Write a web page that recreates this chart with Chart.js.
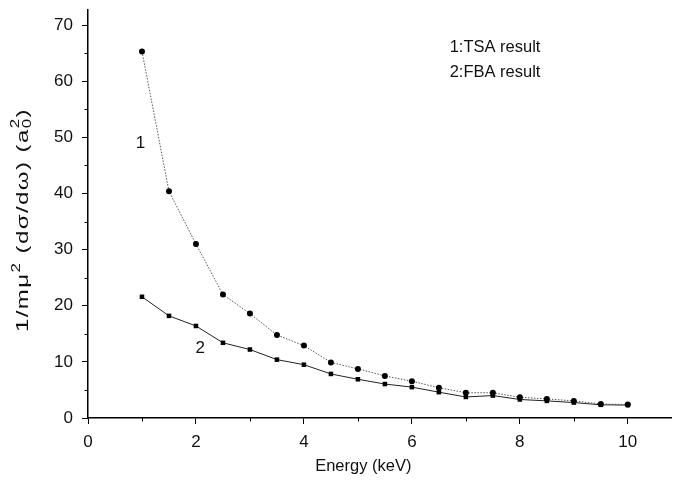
<!DOCTYPE html>
<html>
<head>
<meta charset="utf-8">
<script src="https://cdn.jsdelivr.net/npm/chart.js@4.4.1/dist/chart.umd.min.js"></script>
<style>
html,body{margin:0;padding:0;background:#fff;}
#wrap{width:675px;height:481px;position:relative;}
</style>
</head>
<body>
<div id="wrap"><canvas id="c" width="675" height="481"></canvas></div>
<script>
// Energy (keV)
const energy = [1, 1.5, 2, 2.5, 3, 3.5, 4, 4.5, 5, 5.5, 6, 6.5, 7, 7.5, 8, 8.5, 9, 9.5, 10];
// 1: TSA result
const tsaValues = [65.3, 40.4, 31.0, 22.0, 18.6, 14.8, 12.9, 9.9, 8.75, 7.5, 6.55, 5.4, 4.5, 4.5, 3.7, 3.4, 3.05, 2.5, 2.4];
// 2: FBA result
const fbaValues = [21.6, 18.2, 16.4, 13.4, 12.2, 10.4, 9.5, 7.85, 6.9, 6.05, 5.5, 4.6, 3.75, 4.0, 3.3, 3.05, 2.75, 2.35, 2.3];
const xMinorTicks = [1, 3, 5, 7, 9];
const yMinorTicks = [5, 15, 25, 35, 45, 55, 65];
// Text labels placed at data coordinates
const curveLabels = [
  {text: '1', x: 0.97, y: 49},
  {text: '2', x: 2.08, y: 12.5}
];
const legendLines = [
  {text: '1:TSA result', x: 6.7, y: 66.1},
  {text: '2:FBA result', x: 6.7, y: 61.6}
];
const xTitle = 'Energy (keV)';

const toXY = (xs, ys) => xs.map((x, i) => ({x: x, y: ys[i]}));

const FONT = '"Liberation Sans", Arial, sans-serif';

const extras = {
  id: 'extras',
  afterDraw(chart) {
    const ctx = chart.ctx;
    const xs = chart.scales.x, ys = chart.scales.y;
    ctx.save();
    ctx.strokeStyle = '#000';
    ctx.lineWidth = 1;
    // minor ticks
    xMinorTicks.forEach(v => {
      const px = Math.round(xs.getPixelForValue(v)) + 0.5;
      ctx.beginPath(); ctx.moveTo(px, ys.bottom); ctx.lineTo(px, ys.bottom + 3.5); ctx.stroke();
    });
    yMinorTicks.forEach(v => {
      const py = Math.round(ys.getPixelForValue(v)) + 0.5;
      ctx.beginPath(); ctx.moveTo(xs.left, py); ctx.lineTo(xs.left - 3.5, py); ctx.stroke();
    });
    // curve labels and legend text
    ctx.fillStyle = '#111';
    ctx.textBaseline = 'middle';
    ctx.textAlign = 'center';
    ctx.font = '17px ' + FONT;
    curveLabels.forEach(l => ctx.fillText(l.text, xs.getPixelForValue(l.x), ys.getPixelForValue(l.y)));
    ctx.textAlign = 'left';
    ctx.font = '16.5px ' + FONT;
    legendLines.forEach(l => ctx.fillText(l.text, xs.getPixelForValue(l.x), ys.getPixelForValue(l.y)));
    // x-axis title
    ctx.textAlign = 'center';
    ctx.font = '16.5px ' + FONT;
    ctx.fillText(xTitle, xs.getPixelForValue(5.1), 466);
    ctx.restore();

    // y-axis title with super/subscripts
    ctx.save();
    ctx.fillStyle = '#111';
    const cy = 220;
    ctx.translate(23, cy);
    ctx.rotate(-Math.PI / 2);
    const parts = [
      {t: '1/m\u03bc', f: 17, dy: 0},
      {t: '2', f: 12, dy: -6},
      {t: ' (d\u03c3/d\u03c9) (a', f: 17, dy: 0},
      {t: '0', f: 12, dy: 5, stackNext: true},
      {t: '2', f: 12, dy: -7},
      {t: ')', f: 17, dy: 0}
    ];
    try { ctx.letterSpacing = '1px'; } catch (e) {}
    const widths = parts.map(p => { ctx.font = p.f + 'px ' + FONT; return ctx.measureText(p.t).width; });
    let total = 0;
    parts.forEach((p, i) => { if (!(parts[i-1] && parts[i-1].stackNext)) total += widths[i]; });
    const target = 224;
    const sx = target / total;
    ctx.scale(sx, 1);
    let xpos = -total / 2;
    ctx.textAlign = 'left';
    ctx.textBaseline = 'middle';
    parts.forEach((p, i) => {
      ctx.font = p.f + 'px ' + FONT;
      if (parts[i-1] && parts[i-1].stackNext) {
        ctx.fillText(p.t, xpos - widths[i-1], p.dy);
        xpos += Math.max(0, widths[i] - widths[i-1]);
      } else {
        ctx.fillText(p.t, xpos, p.dy);
        xpos += widths[i];
      }
    });
    ctx.restore();
  }
};

new Chart(document.getElementById('c'), {
  type: 'scatter',
  data: {
    datasets: [
      {
        label: '1:TSA result',
        data: toXY(energy, tsaValues),
        showLine: true,
        borderColor: '#555',
        borderWidth: 1,
        borderDash: [1.5, 1.5],
        pointStyle: 'circle',
        pointRadius: 3,
        pointBackgroundColor: '#000',
        pointBorderColor: '#000',
        pointBorderWidth: 0
      },
      {
        label: '2:FBA result',
        data: toXY(energy, fbaValues),
        showLine: true,
        borderColor: '#222',
        borderWidth: 1,
        pointStyle: 'rect',
        pointRadius: 3.2,
        pointBackgroundColor: '#000',
        pointBorderColor: '#000',
        pointBorderWidth: 0
      }
    ]
  },
  options: {
    responsive: false,
    animation: false,
    devicePixelRatio: 1,
    layout: {padding: {top: 10, right: 0, left: 0, bottom: 0}},
    plugins: {legend: {display: false}, tooltip: {enabled: false}},
    scales: {
      x: {
        type: 'linear',
        min: 0, max: 10.8,
        border: {display: true, color: '#000', width: 1.5},
        grid: {display: true, drawOnChartArea: false, drawTicks: true, tickLength: 6, color: '#000', tickWidth: 1},
        ticks: {stepSize: 2, includeBounds: false, color: '#111', font: {size: 17, family: FONT}, padding: 8, maxRotation: 0},
        afterFit(s) { s.height = 63; s.paddingLeft = 0; s.paddingRight = 0; }
      },
      y: {
        type: 'linear',
        min: 0, max: 72.7,
        border: {display: true, color: '#000', width: 1.5},
        grid: {display: true, drawOnChartArea: false, drawTicks: true, tickLength: 6, color: '#000', tickWidth: 1},
        ticks: {stepSize: 10, includeBounds: false, color: '#111', font: {size: 17, family: FONT}, padding: 9},
        afterFit(s) { s.width = 88; s.paddingTop = 0; s.paddingBottom = 0; }
      }
    }
  },
  plugins: [extras]
});
</script>
</body>
</html>
